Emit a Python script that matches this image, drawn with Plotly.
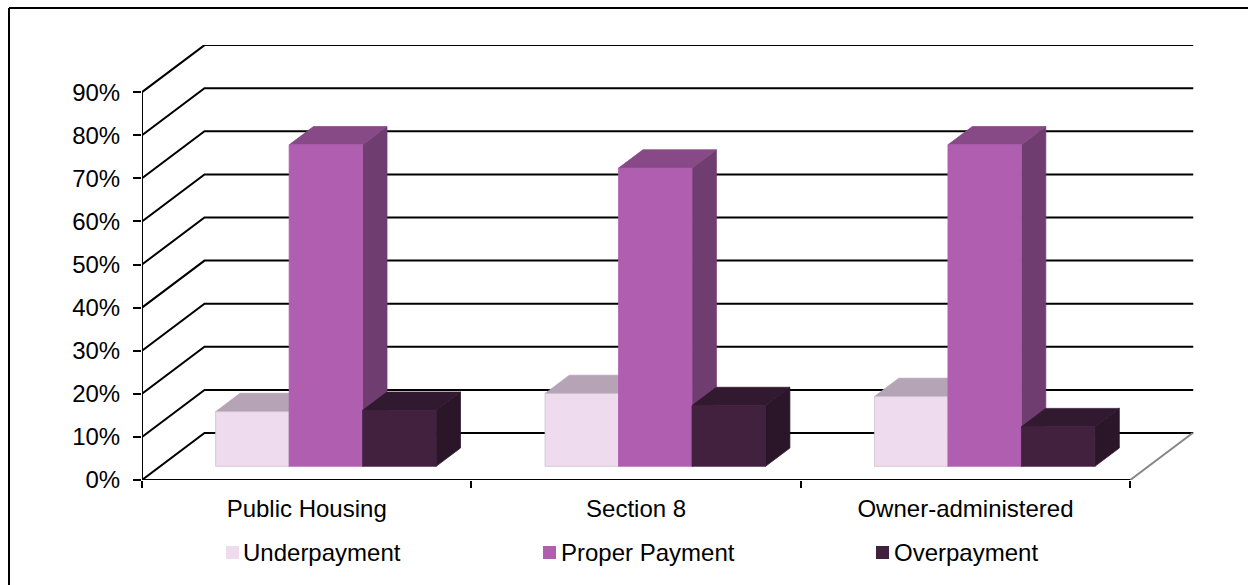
import plotly.graph_objects as go

# Values in percent
categories = ["Public Housing", "Section 8", "Owner-administered"]
underpayment = [12.7, 16.9, 16.2]
proper_payment = [74.6, 69.2, 74.6]
overpayment = [13.0, 14.1, 9.2]
y_ticks = [0, 10, 20, 30, 40, 50, 60, 70, 80, 90]

W, H = 1248, 585
FONT = "Liberation Sans, Arial, sans-serif"
FONT_SIZE = 24

# Plot box on the page, in pixels
LEFT, RIGHT, BOTTOM, TOP = 142.0, 1193.5, 480.0, 45.0
CAT_PX = 329.4
PCT_PX = 4.31
DEPTH_PX_X, DEPTH_PX_Y = 62.5, 47.0

# Oblique depth expressed in axis units
DEPTH_X = DEPTH_PX_X / CAT_PX
DEPTH_Y = DEPTH_PX_Y / PCT_PX
X_MAX = (RIGHT - LEFT) / CAT_PX
Y_MAX = (BOTTOM - TOP) / PCT_PX

# Where each column block sits inside its category and along the depth
BAR_WIDTH = 73.5 / CAT_PX
BAR_START = 55.5 / CAT_PX
BAR_NEAR, BAR_FAR = 0.29, 0.68


def proj(x, y, depth):
    return x + depth * DEPTH_X, y + depth * DEPTH_Y


def polygon(corners, color, name, edge=None):
    xs = [c[0] for c in corners] + [corners[0][0]]
    ys = [c[1] for c in corners] + [corners[0][1]]
    return go.Scatter(
        x=xs, y=ys, mode="lines", fill="toself", fillcolor=color,
        line=dict(color=edge or color, width=0.75),
        name=name, showlegend=False, hoverinfo="skip",
    )


def column(x0, value, colors, name):
    """Side, top and front faces of one column, from its value."""
    x1 = x0 + BAR_WIDTH
    front, top, side = colors
    return [
        polygon([proj(x1, 0, BAR_NEAR), proj(x1, 0, BAR_FAR),
                 proj(x1, value, BAR_FAR), proj(x1, value, BAR_NEAR)], side, name),
        polygon([proj(x0, value, BAR_NEAR), proj(x1, value, BAR_NEAR),
                 proj(x1, value, BAR_FAR), proj(x0, value, BAR_FAR)], top, name),
        polygon([proj(x0, 0, BAR_NEAR), proj(x1, 0, BAR_NEAR),
                 proj(x1, value, BAR_NEAR), proj(x0, value, BAR_NEAR)], front, name,
                edge="#cbbfcb" if name == "Underpayment" else None),
    ]


series = [
    ("Underpayment", underpayment, ("#EEDBEE", "#B4A4B6", "#8F7F90")),
    ("Proper Payment", proper_payment, ("#B05FB0", "#874A86", "#6F3D70")),
    ("Overpayment", overpayment, ("#42213F", "#311A30", "#2A1529")),
]

fig = go.Figure()
n_cat = len(categories)
x_front_end = float(n_cat)

# Wall and floor gridlines: along the side wall, then across the back wall
for v in y_ticks:
    fig.add_trace(go.Scatter(
        x=[0, DEPTH_X, X_MAX], y=[v, v + DEPTH_Y, v + DEPTH_Y],
        mode="lines", line=dict(color="black", width=2),
        showlegend=False, hoverinfo="skip",
    ))

# Right-hand floor edge
fig.add_trace(go.Scatter(
    x=[x_front_end, x_front_end + DEPTH_X], y=[0, DEPTH_Y],
    mode="lines", line=dict(color="#868686", width=2),
    showlegend=False, hoverinfo="skip",
))

# Columns, painted left to right so nearer faces cover the ones behind
for i in range(n_cat):
    for j, (name, values, colors) in enumerate(series):
        for face in column(i + BAR_START + j * BAR_WIDTH, values[i], colors, name):
            fig.add_trace(face)

# Axis lines
fig.add_trace(go.Scatter(
    x=[0, 0], y=[0, 90], mode="lines", line=dict(color="black", width=2),
    showlegend=False, hoverinfo="skip",
))
fig.add_trace(go.Scatter(
    x=[0, x_front_end], y=[0, 0], mode="lines", line=dict(color="black", width=2),
    showlegend=False, hoverinfo="skip", cliponaxis=False,
))


def px(x):
    return x / W


def py(y):
    return 1 - y / H


# Chart-area outline: the top and left edges run off the page
shapes = [
    dict(type="line", xref="paper", yref="paper", x0=px(9), x1=1, y0=py(8), y1=py(8),
         line=dict(color="black", width=2)),
    dict(type="line", xref="paper", yref="paper", x0=px(9), x1=px(9), y0=0, y1=py(8),
         line=dict(color="black", width=2)),
]
annotations = []

# Legend row
for (name, _, colors), sx, tx in zip(series, (226, 543, 876), (241, 559, 892)):
    shapes.append(dict(type="rect", xref="paper", yref="paper",
                       x0=px(sx), x1=px(sx + 13), y0=py(546), y1=py(559),
                       line=dict(width=0), fillcolor=colors[0]))
    annotations.append(dict(xref="paper", yref="paper", x=px(tx), y=py(552),
                            xanchor="left", yanchor="middle", showarrow=False,
                            text=name, font=dict(family=FONT, size=FONT_SIZE, color="black")))

fig.update_layout(
    width=W, height=H, autosize=False,
    margin=dict(l=0, r=0, t=0, b=0),
    paper_bgcolor="white", plot_bgcolor="white",
    showlegend=False,
    shapes=shapes, annotations=annotations,
    font=dict(family=FONT, size=FONT_SIZE, color="black"),
    xaxis=dict(
        domain=[px(LEFT), px(RIGHT)], range=[0, X_MAX], automargin=False,
        tickmode="array",
        tickvals=[i + 0.5 for i in range(n_cat)], ticktext=categories,
        ticks="", showline=False, showgrid=False, zeroline=False,
        ticklabelstandoff=12,
        minor=dict(tickmode="array", tickvals=list(range(n_cat + 1)),
                   ticks="outside", ticklen=7, tickwidth=2, tickcolor="black",
                   showgrid=False),
    ),
    yaxis=dict(
        domain=[py(BOTTOM), py(TOP)], range=[0, Y_MAX], automargin=False,
        tickmode="array", tickvals=y_ticks,
        ticktext=[f"{v}%" for v in y_ticks],
        ticks="outside", ticklen=8, tickwidth=2, tickcolor="black",
        showline=False, showgrid=False, zeroline=False,
        ticklabelstandoff=8,
    ),
)

fig.write_html("out.html")
